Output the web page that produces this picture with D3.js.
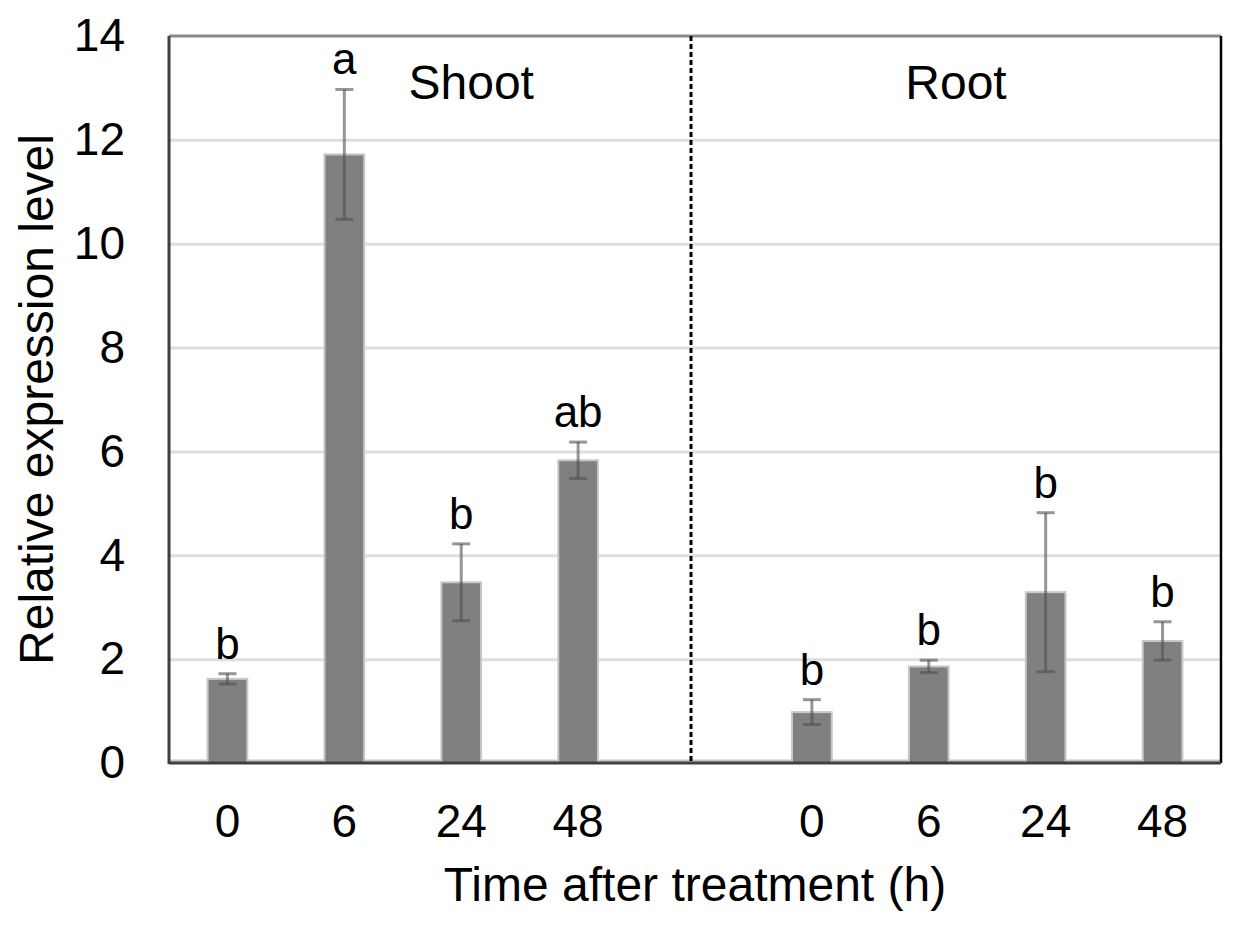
<!DOCTYPE html>
<html>
<head>
<meta charset="utf-8">
<script src="https://cdn.jsdelivr.net/npm/d3@7"></script>
<style>
  body { margin: 0; background: #fff; }
  text { font-family: "Liberation Sans", Arial, sans-serif; fill: #000; }
</style>
</head>
<body>
<div id="chart"></div>
<script>
// values
const timePoints = ["0", "6", "24", "48"];
const shootValues = [1.62, 11.72, 3.48, 5.83];
const shootErrors = [0.10, 1.25, 0.74, 0.35];
const shootLetters = ["b", "a", "b", "ab"];
const rootValues = [0.98, 1.86, 3.29, 2.35];
const rootErrors = [0.24, 0.12, 1.53, 0.37];
const rootLetters = ["b", "b", "b", "b"];
const yTicks = [0, 2, 4, 6, 8, 10, 12, 14];

const width = 1237;
const height = 931;
const margin = { top: 36, right: 16, bottom: 168, left: 169 };

const bars = [
  ...timePoints.map((t, i) => ({ key: "S" + t, label: t, value: shootValues[i], err: shootErrors[i], letter: shootLetters[i] })),
  ...timePoints.map((t, i) => ({ key: "R" + t, label: t, value: rootValues[i], err: rootErrors[i], letter: rootLetters[i] }))
];
const slots = [...timePoints.map(t => "S" + t), "gap", ...timePoints.map(t => "R" + t)];
const labelOf = new Map(bars.map(d => [d.key, d.label]));

const x = d3.scaleBand()
  .domain(slots)
  .range([margin.left, width - margin.right])
  .paddingInner(0.66)
  .paddingOuter(0.33);

const y = d3.scaleLinear()
  .domain([0, 14])
  .range([height - margin.bottom, margin.top]);

const svg = d3.select("#chart")
  .append("svg")
  .attr("width", width)
  .attr("height", height);

// gridlines
svg.append("g")
  .attr("transform", `translate(${margin.left},0)`)
  .call(d3.axisLeft(y).tickValues(yTicks.slice(1, -1)).tickSize(-(width - margin.left - margin.right)).tickFormat(""))
  .call(g => g.select(".domain").remove())
  .call(g => g.selectAll("line").attr("stroke", "#dedede").attr("stroke-width", 3));

// light baseline band
svg.append("line")
  .attr("x1", margin.left).attr("x2", width - margin.right)
  .attr("y1", y(0) - 2).attr("y2", y(0) - 2)
  .attr("stroke", "#c4c4c4").attr("stroke-width", 3);

// bars
svg.append("g")
  .selectAll("rect")
  .data(bars)
  .enter()
  .append("rect")
  .attr("x", d => x(d.key))
  .attr("width", x.bandwidth())
  .attr("y", d => y(d.value))
  .attr("height", d => y(0) - y(d.value))
  .attr("fill", "#808080")
  .attr("stroke", "#c8c8c8")
  .attr("stroke-width", 2);

// error bars
const errG = svg.append("g")
  .attr("stroke", "rgba(80,80,80,0.6)")
  .attr("stroke-width", 3);
const cx = d => x(d.key) + x.bandwidth() / 2;
errG.selectAll(".stem")
  .data(bars)
  .enter()
  .append("line")
  .attr("x1", cx).attr("x2", cx)
  .attr("y1", d => y(d.value + d.err))
  .attr("y2", d => y(d.value - d.err));
errG.selectAll(".cap")
  .data(bars.flatMap(d => [{ d, v: d.value + d.err }, { d, v: d.value - d.err }]))
  .enter()
  .append("line")
  .attr("x1", c => cx(c.d) - 9).attr("x2", c => cx(c.d) + 9)
  .attr("y1", c => y(c.v)).attr("y2", c => y(c.v));

// significance letters
svg.append("g")
  .selectAll("text")
  .data(bars)
  .enter()
  .append("text")
  .attr("x", cx)
  .attr("y", d => y(d.value + d.err) - 15)
  .attr("text-anchor", "middle")
  .attr("font-size", 44)
  .text(d => d.letter);

// frame
const x0 = margin.left, x1 = width - margin.right, y0 = y(14), y1 = y(0);
svg.append("line").attr("x1", x0).attr("x2", x1).attr("y1", y0).attr("y2", y0)
  .attr("stroke", "#8a8a8a").attr("stroke-width", 3);
svg.append("line").attr("x1", x1).attr("x2", x1).attr("y1", y0).attr("y2", y1)
  .attr("stroke", "#000").attr("stroke-width", 2.5);
svg.append("line").attr("x1", x0).attr("x2", x0).attr("y1", y0).attr("y2", y1 + 1)
  .attr("stroke", "#404040").attr("stroke-width", 3);
svg.append("line").attr("x1", x0).attr("x2", x1).attr("y1", y1).attr("y2", y1)
  .attr("stroke", "#404040").attr("stroke-width", 3);

// divider between shoot and root
const gx = x("gap") + x.bandwidth() / 2 - 4;
svg.append("line")
  .attr("x1", gx).attr("x2", gx)
  .attr("y1", y0).attr("y2", y1)
  .attr("stroke", "#000").attr("stroke-width", 3)
  .attr("stroke-dasharray", "5,3");

// axes
svg.append("g")
  .attr("transform", `translate(${margin.left},0)`)
  .call(d3.axisLeft(y).tickValues(yTicks).tickSize(0).tickPadding(44))
  .call(g => g.select(".domain").remove())
  .call(g => g.selectAll("text").attr("font-size", 46).attr("font-family", "Liberation Sans, Arial, sans-serif"));

svg.append("g")
  .attr("transform", `translate(0,${y(0)})`)
  .call(d3.axisBottom(x).tickSize(0).tickPadding(41).tickFormat(k => labelOf.get(k) || ""))
  .call(g => g.select(".domain").remove())
  .call(g => g.selectAll("text").attr("font-size", 46).attr("font-family", "Liberation Sans, Arial, sans-serif"));

// group titles
svg.append("text")
  .attr("x", x("S24") + x.bandwidth() / 2 + 10)
  .attr("y", 99)
  .attr("text-anchor", "middle")
  .attr("font-size", 48)
  .text("Shoot");
svg.append("text")
  .attr("x", (gx + x1) / 2)
  .attr("y", 99)
  .attr("text-anchor", "middle")
  .attr("font-size", 48)
  .text("Root");

// axis titles
svg.append("text")
  .attr("x", (x0 + x1) / 2)
  .attr("y", 901)
  .attr("text-anchor", "middle")
  .attr("font-size", 48)
  .text("Time after treatment (h)");
svg.append("text")
  .attr("transform", `translate(53,${(y0 + y1) / 2}) rotate(-90)`)
  .attr("text-anchor", "middle")
  .attr("font-size", 48)
  .text("Relative expression level");
</script>
</body>
</html>
